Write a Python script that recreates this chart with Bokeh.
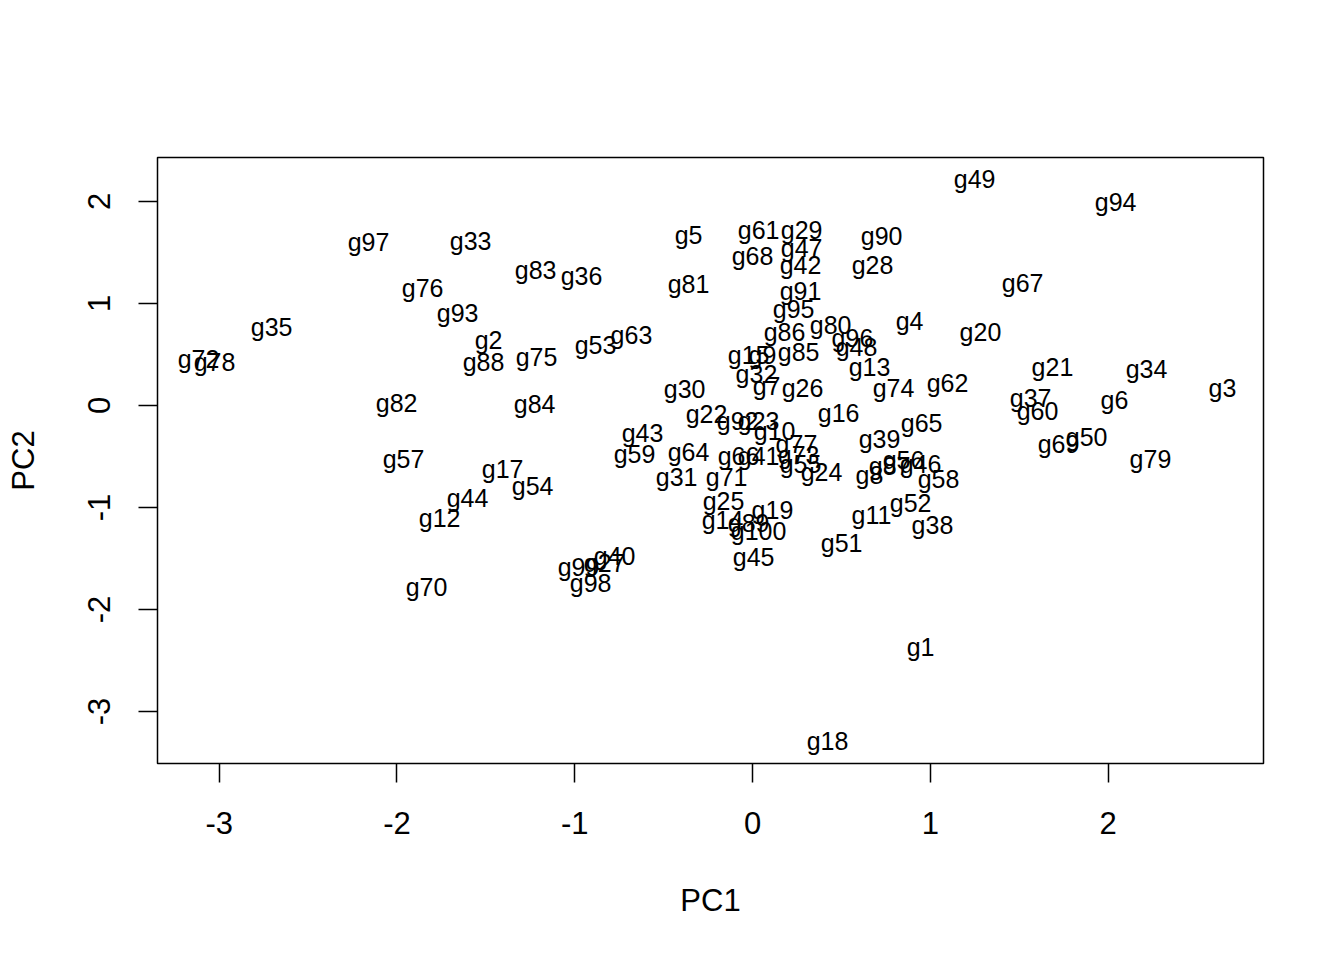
from bokeh.plotting import figure
from bokeh.models import ColumnDataSource, Range1d, FixedTicker
from bokeh.core.properties import value
from bokeh.embed import file_html
from bokeh.resources import INLINE

labels = ["g%d" % i for i in range(1, 101)]
pc1 = [0.945, -1.485, 2.643, 0.883, -0.360, 2.036, 0.079, 0.658, 0.056, 0.124,
       0.669, -1.760, 0.658, -0.169, -0.022, 0.484, -1.406, 0.422, 0.112, 1.282,
       1.687, -0.259, 0.034, 0.388, -0.163, 0.281, -0.832, 0.675, 0.276, -0.382,
       -0.427, 0.022, -1.586, 2.216, -2.705, -0.962, 1.564, 1.012, 0.714, -0.776,
       0.034, 0.270, -0.619, -1.603, 0.006, 0.945, 0.276, 0.585, 1.249, 1.879,
       0.501, 0.889, -0.883, -1.237, 0.270, 0.849, -1.963, 1.046, -0.664, 1.603,
       0.034, 1.097, -0.681, -0.360, 0.951, -0.079, 1.519, 0.000, 1.721, -1.834,
       -0.146, -3.116, 0.259, 0.793, -1.215, -1.856, 0.247, -3.026, 2.238, 0.439,
       -0.360, -2.002, -1.220, -1.226, 0.259, 0.180, 0.771, -1.513, -0.022, 0.726,
       0.270, -0.084, -1.659, 2.042, 0.231, 0.562, -2.160, -0.911, -0.979, 0.034]
pc2 = [-2.363, 0.637, 0.167, 0.824, 1.676, 0.049, 0.186, -0.686, 0.490, -0.255,
       -1.078, -1.108, 0.382, -1.118, 0.490, -0.078, -0.618, -3.294, -1.029, 0.716,
       0.373, -0.088, -0.157, -0.657, -0.941, 0.176, -1.549, 1.373, 1.716, 0.157,
       -0.706, 0.304, 1.608, 0.353, 0.765, 1.265, 0.078, -1.176, -0.333, -1.480,
       -0.500, 1.382, -0.265, -0.912, -1.490, -0.578, 1.539, 0.578, 2.216, -0.314,
       -1.353, -0.961, 0.588, -0.794, -0.569, -0.539, -0.520, -0.716, -0.471, -0.059,
       1.716, 0.216, 0.686, -0.461, -0.176, -0.500, 1.196, 1.461, -0.382, -1.784,
       -0.706, 0.451, -0.490, 0.176, 0.471, 1.147, -0.382, 0.431, -0.529, 0.784,
       1.186, 0.020, 1.324, 0.010, 0.520, 0.716, -0.598, 0.431, -1.157, 1.657,
       1.118, -0.157, 0.902, 1.990, 0.941, 0.657, 1.598, -1.745, -1.588, -1.235]
ticks = [-3, -2, -1, 0, 1, 2]
tick_labels = ["-3", "-2", "-1", "0", "1", "2"]

src = ColumnDataSource(dict(x=pc1, y=pc2, label=labels))

p = figure(width=1328, height=944, output_backend="svg", toolbar_location=None,
           x_range=Range1d(-3.347, 2.874), y_range=Range1d(-3.510, 2.431),
           min_border_left=157, min_border_top=157, min_border_right=65,
           min_border_bottom=181)
p.background_fill_color = "white"
p.border_fill_color = "white"
p.outline_line_color = "black"
p.outline_line_width = 1.5
p.xgrid.visible = False
p.ygrid.visible = False

p.text(x="x", y="y", text="label", source=src, text_align="center",
       text_baseline="middle", text_font=value("Liberation Sans"),
       text_font_size="25px", text_color="black")

for ax in (p.xaxis[0], p.yaxis[0]):
    ax.ticker = FixedTicker(ticks=ticks)
    ax.major_label_overrides = {t: s for t, s in zip(ticks, tick_labels)}
    ax.axis_line_color = None
    ax.major_tick_line_color = "black"
    ax.major_tick_line_width = 1.5
    ax.major_tick_out = 19
    ax.major_tick_in = 0
    ax.minor_tick_line_color = None
    ax.major_label_text_font = "Liberation Sans"
    ax.major_label_text_font_size = "31px"
    ax.major_label_text_color = "black"
    ax.axis_label_text_font = "Liberation Sans"
    ax.axis_label_text_font_size = "31px"
    ax.axis_label_text_font_style = "normal"
    ax.axis_label_text_color = "black"

p.xaxis.axis_label = "PC1"
p.yaxis.axis_label = "PC2"
p.xaxis.major_label_standoff = 29
p.yaxis.major_label_standoff = 28
p.yaxis.major_label_orientation = "vertical"
p.xaxis.axis_label_standoff = 46
p.yaxis.axis_label_standoff = 45

open("out.html", "w").write(file_html(p, INLINE))
